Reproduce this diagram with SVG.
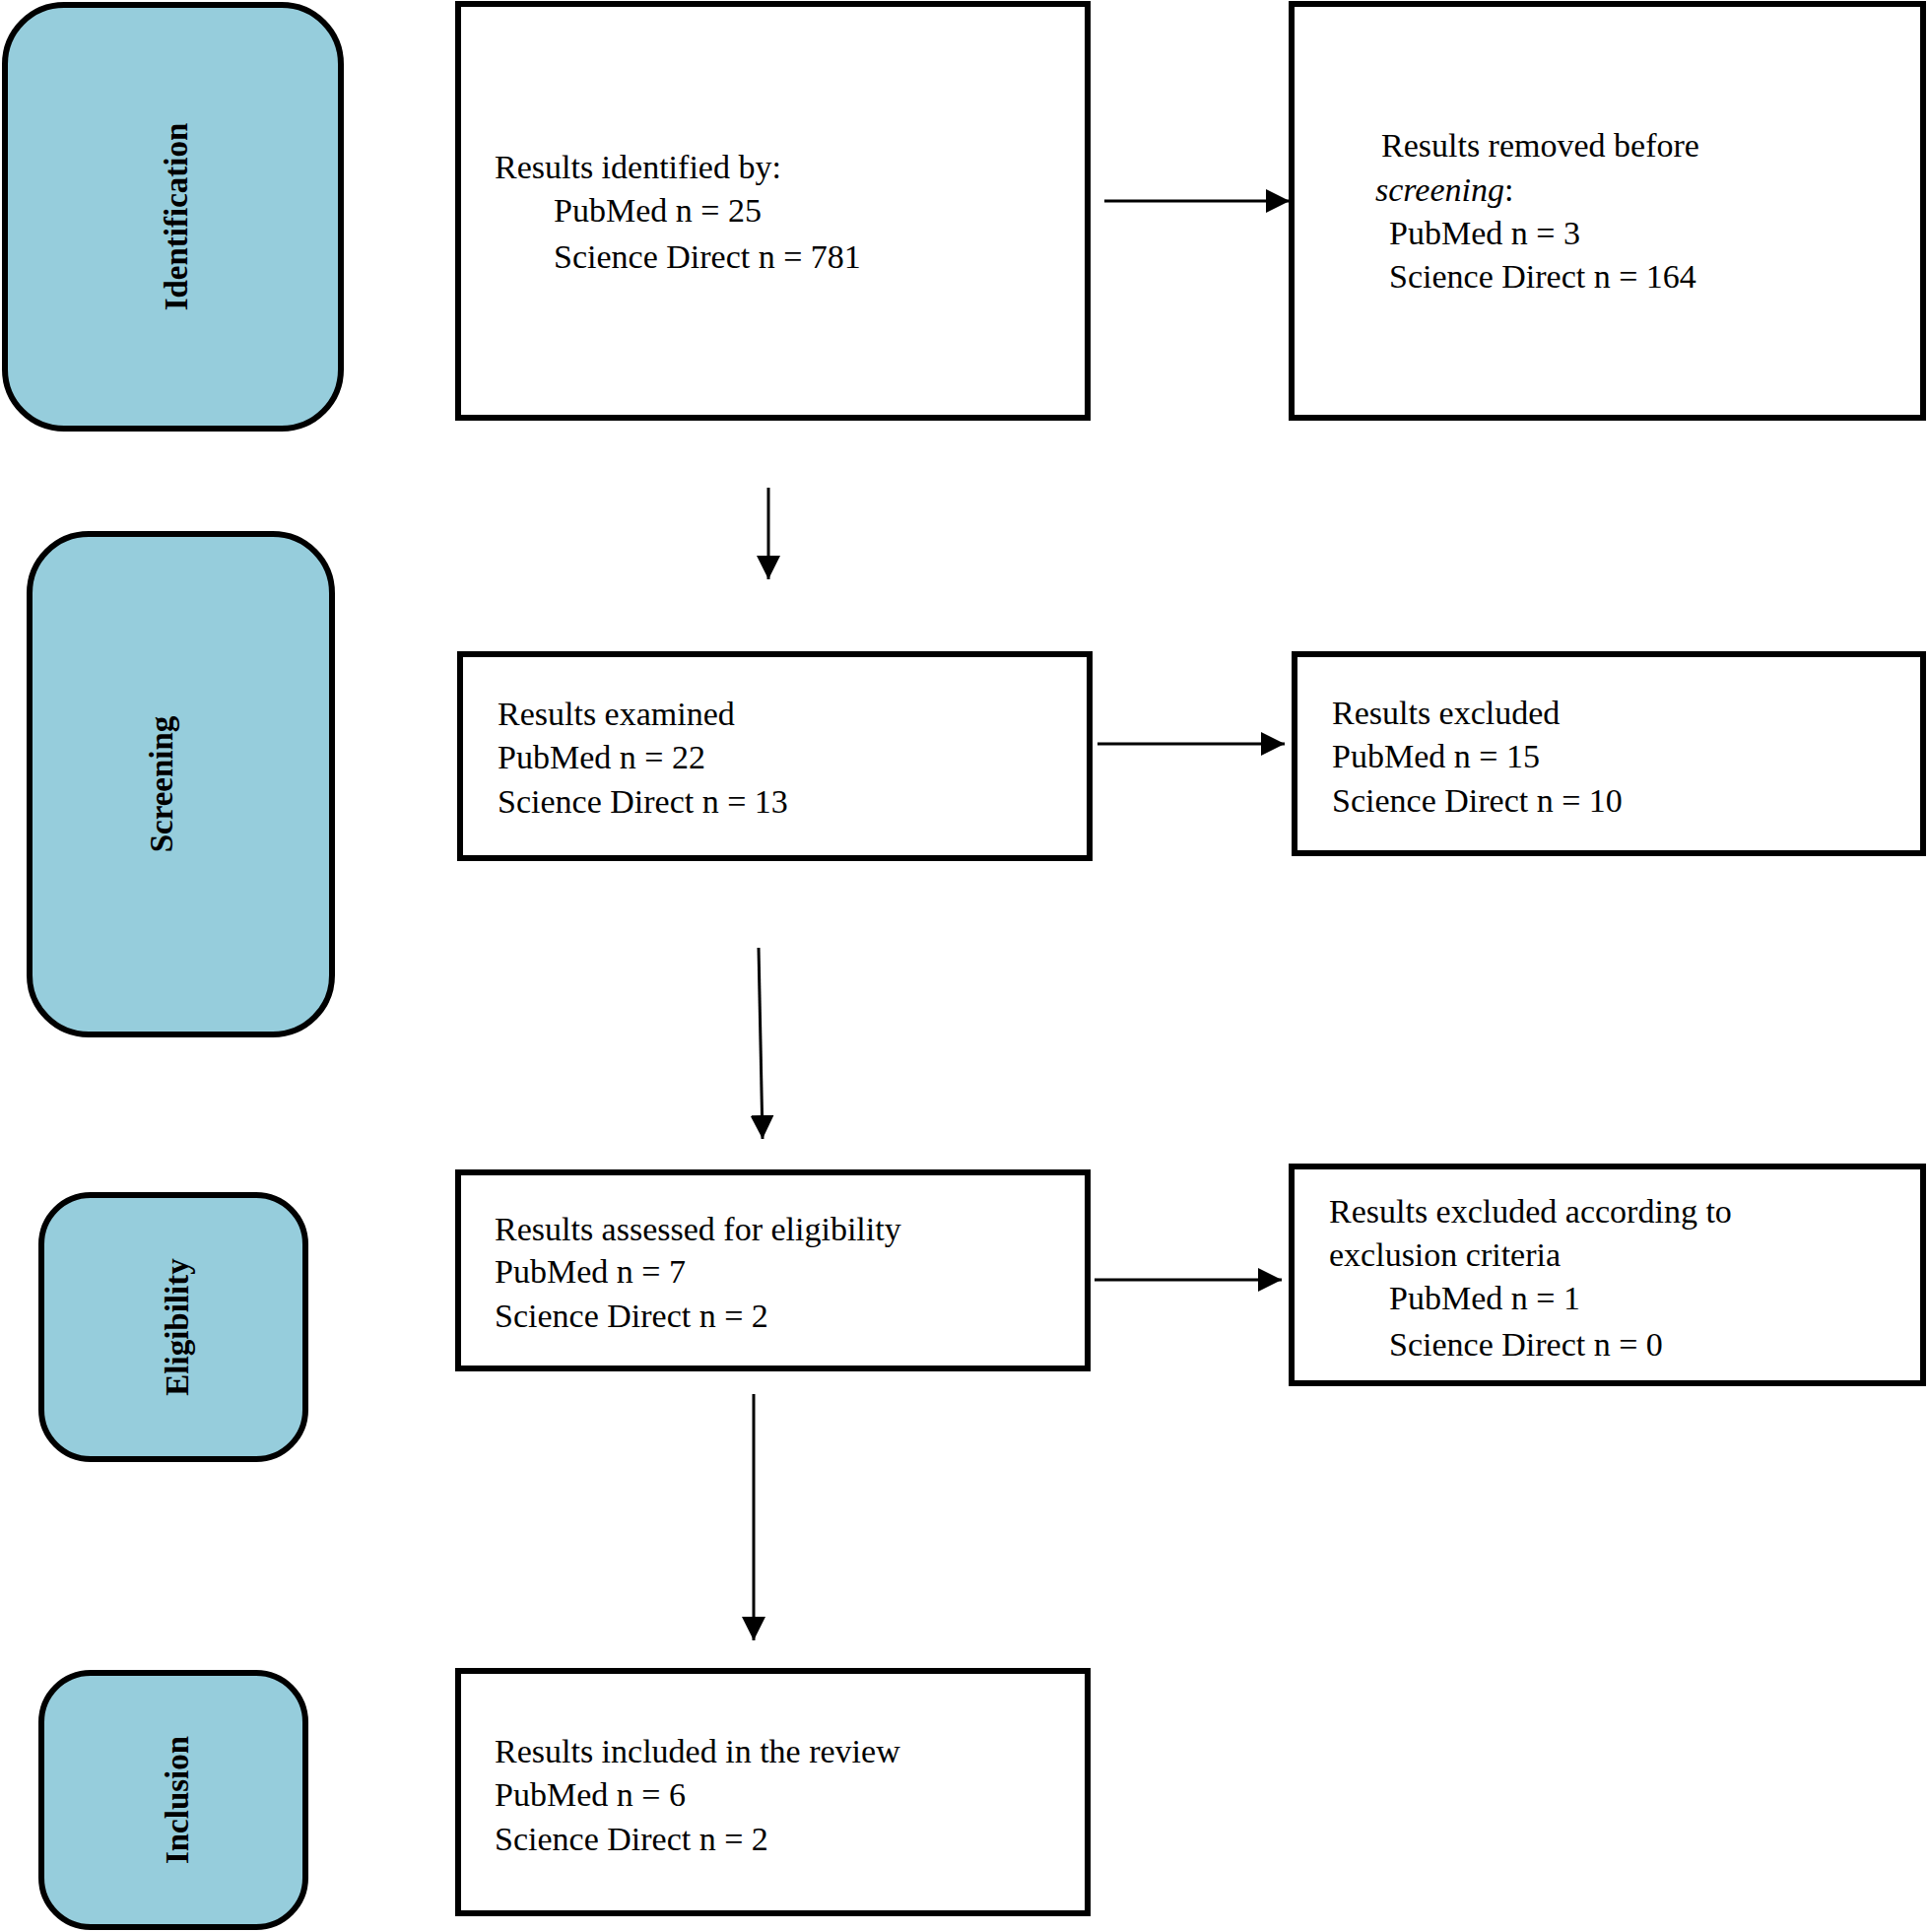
<svg xmlns="http://www.w3.org/2000/svg" width="1957" height="1961" viewBox="0 0 1957 1961">
<style>
.pill{fill:#96cddc;stroke:#000;stroke-width:6}
.box{fill:#fff;stroke:#000;stroke-width:6}
.lbl{font-family:"Liberation Serif",serif;font-weight:bold;font-size:33px;text-anchor:middle;dominant-baseline:central}
.t{font-family:"Liberation Serif",serif;font-size:34px;fill:#000}
.c{stroke:#000;stroke-width:3;fill:none;marker-end:url(#ah)}
</style>
<defs><marker id="ah" markerWidth="10" markerHeight="10" refX="9" refY="5" orient="auto" markerUnits="userSpaceOnUse" viewBox="0 0 10 10"><path d="M0,0 L10,5 L0,10z" fill="#000" transform="scale(1)"/></marker>
<marker id="ah2" viewBox="0 0 10 10" refX="10" refY="5" markerWidth="24" markerHeight="26" markerUnits="userSpaceOnUse" orient="auto"><path d="M0,0 L10,5 L0,10z" fill="#000"/></marker></defs>
<rect width="1957" height="1961" fill="#fff"/>
<g id="stage-identification"><rect class="pill" x="5" y="5" width="341" height="430" rx="60"/><text class="lbl" transform="translate(179,220) rotate(-90)">Identification</text></g>
<g id="stage-screening"><rect class="pill" x="30" y="542" width="307" height="508" rx="60"/><text class="lbl" transform="translate(164,796) rotate(-90)">Screening</text></g>
<g id="stage-eligibility"><rect class="pill" x="42" y="1213" width="268" height="268" rx="50"/><text class="lbl" transform="translate(180,1347) rotate(-90)">Eligibility</text></g>
<g id="stage-inclusion"><rect class="pill" x="42" y="1698" width="268" height="258" rx="50"/><text class="lbl" transform="translate(180,1827) rotate(-90)">Inclusion</text></g>
<g id="identified"><rect class="box" x="465" y="4" width="639" height="420"/><text class="t" x="502" y="181">Results identified by:</text><text class="t" x="562" y="225">PubMed n = 25</text><text class="t" x="562" y="272">Science Direct n = 781</text></g>
<g id="removed"><rect class="box" x="1311" y="4" width="641" height="420"/><text class="t" x="1402" y="159">Results removed before</text><text class="t" x="1396" y="204"><tspan font-style="italic">screening</tspan>:</text><text class="t" x="1410" y="248">PubMed n = 3</text><text class="t" x="1410" y="292">Science Direct n = 164</text></g>
<g id="examined"><rect class="box" x="467" y="664" width="639" height="207"/><text class="t" x="505" y="736">Results examined</text><text class="t" x="505" y="780">PubMed n = 22</text><text class="t" x="505" y="825">Science Direct n = 13</text></g>
<g id="excluded"><rect class="box" x="1314" y="664" width="638" height="202"/><text class="t" x="1352" y="735">Results excluded</text><text class="t" x="1352" y="779">PubMed n = 15</text><text class="t" x="1352" y="824">Science Direct n = 10</text></g>
<g id="assessed"><rect class="box" x="465" y="1190" width="639" height="199"/><text class="t" x="502" y="1259">Results assessed for eligibility</text><text class="t" x="502" y="1302">PubMed n = 7</text><text class="t" x="502" y="1347">Science Direct n = 2</text></g>
<g id="excluded-criteria"><rect class="box" x="1311" y="1184" width="641" height="220"/><text class="t" x="1349" y="1241">Results excluded according to</text><text class="t" x="1349" y="1285">exclusion criteria</text><text class="t" x="1410" y="1329">PubMed n = 1</text><text class="t" x="1410" y="1376">Science Direct n = 0</text></g>
<g id="included"><rect class="box" x="465" y="1696" width="639" height="246"/><text class="t" x="502" y="1789">Results included in the review</text><text class="t" x="502" y="1833">PubMed n = 6</text><text class="t" x="502" y="1878">Science Direct n = 2</text></g>
<g id="connectors" stroke="#000" stroke-width="3" fill="none">
<line x1="1121" y1="204" x2="1309" y2="204" marker-end="url(#ah2)"/>
<line x1="780" y1="495" x2="780" y2="588" marker-end="url(#ah2)"/>
<line x1="1114" y1="755" x2="1304" y2="755" marker-end="url(#ah2)"/>
<line x1="770" y1="962" x2="774" y2="1156" marker-end="url(#ah2)"/>
<line x1="1111" y1="1299" x2="1301" y2="1299" marker-end="url(#ah2)"/>
<line x1="765" y1="1415" x2="765" y2="1665" marker-end="url(#ah2)"/>
</g>
</svg>
